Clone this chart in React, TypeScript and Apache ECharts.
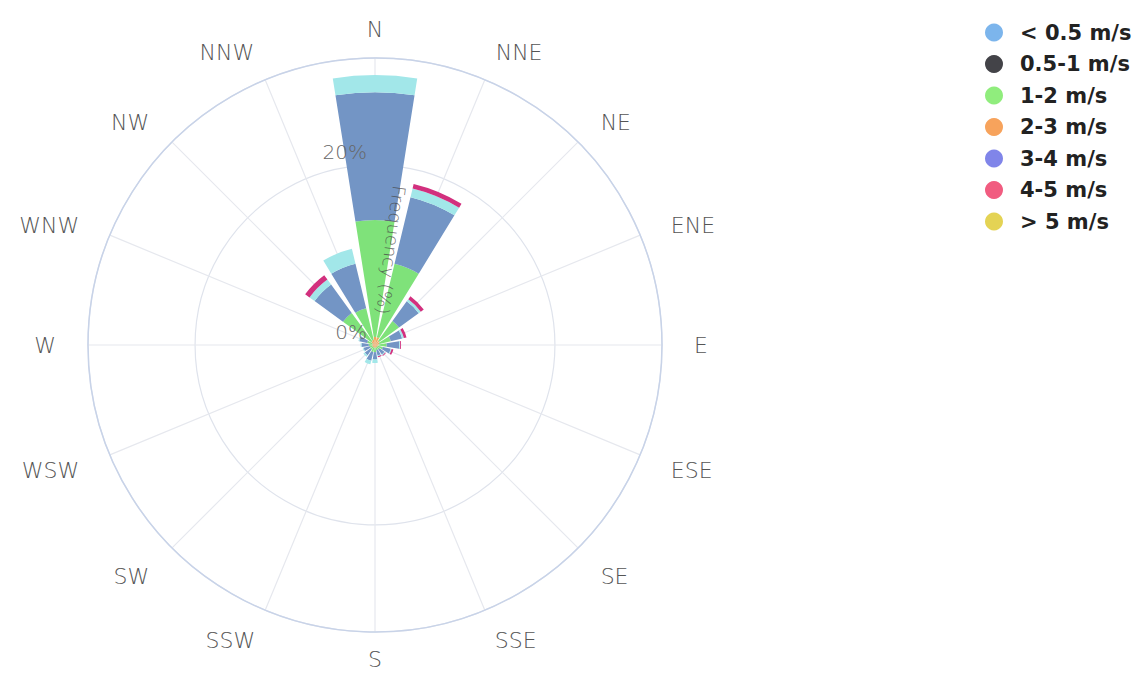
import React, { useEffect, useRef } from "react";
import * as echarts from "echarts";

const directions = ["N", "NNE", "NE", "ENE", "E", "ESE", "SE", "SSE", "S", "SSW", "SW", "WSW", "W", "WNW", "NW", "NNW"];
const seriesNames = ["< 0.5 m/s", "0.5-1 m/s", "1-2 m/s", "2-3 m/s", "3-4 m/s", "4-5 m/s", "> 5 m/s"];
const legendColors = ["#7cb5ec", "#434348", "#90ed7d", "#f7a35c", "#8085e9", "#f15c80", "#e4d354"];
const barColors = ["#f2a65a", "#434348", "#7fe27a", "#7395c5", "#a2e7e9", "#d2307e", "#e4d354"];

const below05 = [0.9, 0.9, 0.6, 0.5, 0.4, 0.3, 0.3, 0.3, 0.3, 0.3, 0.3, 0.3, 0.3, 0.3, 0.5, 0.6];
const s05to1 = [0, 0, 0, 0, 0, 0, 0, 0, 0, 0, 0, 0, 0, 0, 0, 0];
const s1to2 = [13.0, 8.4, 2.7, 1.3, 0.9, 0.6, 0.3, 0.3, 0.5, 0.5, 0.3, 0.3, 0.4, 0.6, 3.9, 3.6];
const s2to3 = [14.2, 7.6, 2.7, 1.3, 1.4, 0.9, 0.7, 0.6, 0.8, 1.0, 0.8, 0.7, 0.8, 0.9, 3.9, 5.1];
const s3to4 = [1.9, 1.0, 0.3, 0.2, 0.1, 0.1, 0.1, 0.1, 0.4, 0.4, 0.2, 0.1, 0.1, 0.1, 0.7, 1.7];
const s4to5 = [0, 0.5, 0.4, 0.3, 0.1, 0.2, 0.1, 0.1, 0, 0, 0, 0, 0, 0, 0.6, 0];
const above5 = [0, 0, 0, 0, 0, 0, 0, 0, 0, 0, 0, 0, 0, 0, 0, 0];

const allData = [below05, s05to1, s1to2, s2to3, s3to4, s4to5, above5];
const radiusTicks = [0, 20];
const radiusMax = 31.9;
const sectorStep = 360 / directions.length;

// label styling by ring position (index 0 = N ... 8 = S), mirrored for west side
const labelLineHeights = [22, 22, 14, 6, 22, 18, 32, 28, 18];
const labelSidePads = [0, 4, 10, 14, 14, 14, 10, 3, 0];

export default function App() {
  const ref = useRef<HTMLDivElement>(null);
  useEffect(() => {
    if (!ref.current) return;
    const chart = echarts.init(ref.current, null, { renderer: "svg" });
    const rich: Record<string, any> = {};
    labelLineHeights.forEach((lh, i) => {
      rich["d" + i] = {
        fontSize: 22,
        fontFamily: "DejaVu Sans",
        fontWeight: 200,
        color: "#555",
        lineHeight: lh,
        padding: [0, labelSidePads[i], 0, labelSidePads[i]],
      };
    });
    chart.setOption({
      animation: false,
      backgroundColor: "#ffffff",
      legend: {
        orient: "vertical",
        left: 980,
        top: 17,
        icon: "circle",
        itemWidth: 18,
        itemHeight: 18,
        itemGap: 10.5,
        textStyle: { fontFamily: "DejaVu Sans", fontWeight: "bold", fontSize: 21, color: "#222", padding: [0, 0, 0, 12] },
        data: seriesNames.map((n, i) => ({ name: n, itemStyle: { color: legendColors[i] } })),
      },
      polar: [
        { center: [375, 345], radius: 287 },
        { center: [375, 345], radius: 287 },
      ],
      angleAxis: [
        {
          polarIndex: 0,
          type: "category",
          data: directions,
          boundaryGap: true,
          startAngle: 90 + sectorStep / 2,
          clockwise: true,
          axisLine: { show: true, lineStyle: { color: "#c8d3e8", width: 1.5 } },
          axisTick: { show: false },
          axisLabel: { show: false },
          splitLine: { show: false },
          z: 1,
        },
        {
          polarIndex: 1,
          type: "value",
          min: 0,
          max: 360,
          interval: sectorStep,
          startAngle: 90,
          clockwise: true,
          axisLine: { show: false },
          axisTick: { show: false },
          axisLabel: {
            margin: 18,
            color: "#555",
            fontSize: 22,
            fontFamily: "DejaVu Sans",
            fontWeight: 200,
            rich,
            formatter: (v: number) => {
              if (v >= 360) return "";
              const idx = Math.round(v / sectorStep);
              const ring = idx <= 8 ? idx : 16 - idx;
              return "{d" + ring + "|" + directions[idx] + "}";
            },
          },
          splitLine: { show: true, lineStyle: { color: "#e6e8ee", width: 1.2 } },
          z: 1,
        },
      ],
      radiusAxis: [
        {
          polarIndex: 0,
          type: "value",
          min: 0,
          max: radiusMax,
          interval: 20,
          axisLine: { show: false },
          axisTick: { show: false },
          axisLabel: { show: false },
          splitLine: { show: true, lineStyle: { color: "#dfe3ec", width: 1.2 } },
          z: 1,
        },
        {
          polarIndex: 1,
          type: "value",
          min: 0,
          max: radiusMax,
          interval: 20,
          axisLine: { show: false },
          axisTick: { show: false },
          axisLabel: {
            color: "#666",
            fontSize: 20,
            fontFamily: "DejaVu Sans",
            fontWeight: 200,
            margin: 8,
            verticalAlign: "bottom",
            padding: [0, 0, 3, 0],
            formatter: (v: number) => (radiusTicks.includes(v) ? v + "%" : ""),
          },
          splitLine: { show: false },
          z: 10,
        },
      ],
      graphic: [
        {
          type: "text",
          x: 391,
          y: 250,
          rotation: -1.70,
          z: 100,
          style: {
            text: "Frequency (%)",
            fill: "rgba(70,70,70,0.75)",
            fontSize: 18,
            fontFamily: "DejaVu Sans",
            fontWeight: 200,
            align: "center",
            verticalAlign: "middle",
          },
        },
      ],
      series: allData.map((d, i) => ({
        type: "bar",
        name: seriesNames[i],
        coordinateSystem: "polar",
        polarIndex: 0,
        stack: "wind",
        data: d,
        barCategoryGap: "20%",
        itemStyle: { color: barColors[i] },
        z: 2,
      })),
    });
    return () => chart.dispose();
  }, []);
  return <div ref={ref} style={{ position: "fixed", left: 0, top: 0, width: 1141, height: 673 }} />;
}
